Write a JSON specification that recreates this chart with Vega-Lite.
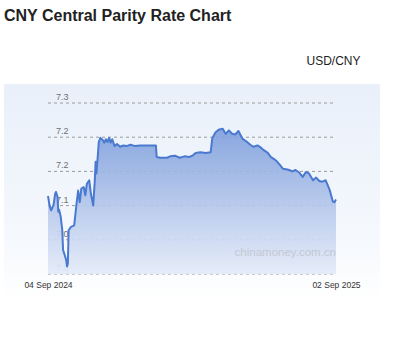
{
  "$schema": "https://vega.github.io/schema/vega-lite/v6.json",
  "width": 376,
  "height": 216,
  "autosize": {"type": "none"},
  "padding": {"left": 4, "top": 84, "right": 18, "bottom": 56},
  "background": "#ffffff",
  "config": {"view": {"stroke": null}, "font": "Liberation Sans"},
  "title": {
    "text": "CNY Central Parity Rate Chart",
    "anchor": "start",
    "frame": "group",
    "font": "Liberation Sans",
    "fontSize": 16,
    "fontWeight": "bold",
    "color": "#222222",
    "baseline": "alphabetic",
    "offset": 17
  },
  "datasets": {
    "rates": [
      {"d": "2024-09-04", "v": 7.114},
      {"d": "2024-09-06", "v": 7.100},
      {"d": "2024-09-08", "v": 7.093},
      {"d": "2024-09-11", "v": 7.101},
      {"d": "2024-09-13", "v": 7.117},
      {"d": "2024-09-14", "v": 7.120},
      {"d": "2024-09-16", "v": 7.113},
      {"d": "2024-09-17", "v": 7.091},
      {"d": "2024-09-18", "v": 7.094},
      {"d": "2024-09-20", "v": 7.084},
      {"d": "2024-09-22", "v": 7.064},
      {"d": "2024-09-23", "v": 7.035},
      {"d": "2024-09-25", "v": 7.028},
      {"d": "2024-09-27", "v": 7.020},
      {"d": "2024-09-28", "v": 7.011},
      {"d": "2024-09-29", "v": 7.015},
      {"d": "2024-09-30", "v": 7.064},
      {"d": "2024-10-03", "v": 7.069},
      {"d": "2024-10-07", "v": 7.071},
      {"d": "2024-10-10", "v": 7.103},
      {"d": "2024-10-12", "v": 7.122},
      {"d": "2024-10-14", "v": 7.105},
      {"d": "2024-10-16", "v": 7.125},
      {"d": "2024-10-19", "v": 7.127},
      {"d": "2024-10-21", "v": 7.115},
      {"d": "2024-10-23", "v": 7.132},
      {"d": "2024-10-26", "v": 7.137},
      {"d": "2024-10-28", "v": 7.118},
      {"d": "2024-10-31", "v": 7.100},
      {"d": "2024-11-02", "v": 7.137},
      {"d": "2024-11-03", "v": 7.164},
      {"d": "2024-11-04", "v": 7.147},
      {"d": "2024-11-06", "v": 7.176},
      {"d": "2024-11-07", "v": 7.193},
      {"d": "2024-11-09", "v": 7.199},
      {"d": "2024-11-12", "v": 7.196},
      {"d": "2024-11-14", "v": 7.192},
      {"d": "2024-11-16", "v": 7.197},
      {"d": "2024-11-18", "v": 7.193},
      {"d": "2024-11-20", "v": 7.199},
      {"d": "2024-11-22", "v": 7.192},
      {"d": "2024-11-24", "v": 7.197},
      {"d": "2024-11-27", "v": 7.187},
      {"d": "2024-11-30", "v": 7.190},
      {"d": "2024-12-04", "v": 7.186},
      {"d": "2024-12-08", "v": 7.188},
      {"d": "2024-12-12", "v": 7.187},
      {"d": "2024-12-17", "v": 7.189},
      {"d": "2024-12-23", "v": 7.187},
      {"d": "2024-12-29", "v": 7.188},
      {"d": "2025-01-05", "v": 7.188},
      {"d": "2025-01-11", "v": 7.188},
      {"d": "2025-01-18", "v": 7.188},
      {"d": "2025-01-19", "v": 7.171},
      {"d": "2025-01-23", "v": 7.170},
      {"d": "2025-02-01", "v": 7.170},
      {"d": "2025-02-05", "v": 7.172},
      {"d": "2025-02-11", "v": 7.173},
      {"d": "2025-02-17", "v": 7.170},
      {"d": "2025-02-23", "v": 7.172},
      {"d": "2025-03-01", "v": 7.171},
      {"d": "2025-03-05", "v": 7.173},
      {"d": "2025-03-09", "v": 7.177},
      {"d": "2025-03-15", "v": 7.178},
      {"d": "2025-03-22", "v": 7.177},
      {"d": "2025-03-28", "v": 7.178},
      {"d": "2025-03-30", "v": 7.198},
      {"d": "2025-04-03", "v": 7.207},
      {"d": "2025-04-07", "v": 7.211},
      {"d": "2025-04-12", "v": 7.2125},
      {"d": "2025-04-16", "v": 7.205},
      {"d": "2025-04-20", "v": 7.210},
      {"d": "2025-04-24", "v": 7.205},
      {"d": "2025-04-28", "v": 7.204},
      {"d": "2025-05-02", "v": 7.209},
      {"d": "2025-05-07", "v": 7.198},
      {"d": "2025-05-13", "v": 7.193},
      {"d": "2025-05-17", "v": 7.189},
      {"d": "2025-05-21", "v": 7.186},
      {"d": "2025-05-26", "v": 7.188},
      {"d": "2025-05-30", "v": 7.185},
      {"d": "2025-06-03", "v": 7.181},
      {"d": "2025-06-08", "v": 7.177},
      {"d": "2025-06-12", "v": 7.171},
      {"d": "2025-06-16", "v": 7.168},
      {"d": "2025-06-20", "v": 7.164},
      {"d": "2025-06-23", "v": 7.160},
      {"d": "2025-06-27", "v": 7.154},
      {"d": "2025-07-01", "v": 7.153},
      {"d": "2025-07-05", "v": 7.152},
      {"d": "2025-07-09", "v": 7.150},
      {"d": "2025-07-13", "v": 7.152},
      {"d": "2025-07-18", "v": 7.148},
      {"d": "2025-07-22", "v": 7.142},
      {"d": "2025-07-26", "v": 7.149},
      {"d": "2025-07-30", "v": 7.147},
      {"d": "2025-08-04", "v": 7.137},
      {"d": "2025-08-08", "v": 7.141},
      {"d": "2025-08-12", "v": 7.136},
      {"d": "2025-08-16", "v": 7.135},
      {"d": "2025-08-20", "v": 7.137},
      {"d": "2025-08-25", "v": 7.123},
      {"d": "2025-08-29", "v": 7.106},
      {"d": "2025-08-31", "v": 7.105},
      {"d": "2025-09-02", "v": 7.109}
    ],
    "grid": [
      {"g": 7.00}, {"g": 7.05}, {"g": 7.10}, {"g": 7.15}, {"g": 7.20}, {"g": 7.25}
    ],
    "panel": [{"p": 1}]
  },
  "layer": [
    {
      "data": {"name": "panel"},
      "mark": {
        "type": "rect",
        "fill": {
          "gradient": "linear", "x1": 0, "y1": 0, "x2": 0, "y2": 1,
          "stops": [
            {"offset": 0, "color": "#e9f0fa"},
            {"offset": 0.75, "color": "#f6f9fd"},
            {"offset": 1, "color": "#ffffff"}
          ]
        }
      },
      "encoding": {
        "x": {"value": 0},
        "x2": {"value": "width"},
        "y": {"value": 0},
        "y2": {"value": "height"}
      }
    },
    {
      "data": {"name": "grid"},
      "mark": {"type": "rule", "stroke": "#9a9a9a", "strokeWidth": 1, "strokeDash": [3, 3]},
      "encoding": {
        "y": {"field": "g", "type": "quantitative"},
        "x": {"datum": 1725408000000, "type": "temporal"},
        "x2": {"datum": 1756771200000}
      }
    },
    {
      "data": {"name": "grid"},
      "mark": {"type": "text", "align": "left", "baseline": "alphabetic", "dx": 8, "dy": -3, "fontSize": 9, "color": "#707070", "font": "Liberation Sans"},
      "encoding": {
        "y": {"field": "g", "type": "quantitative"},
        "x": {"datum": 1725408000000, "type": "temporal"},
        "text": {"field": "g", "type": "quantitative", "format": ".1f"}
      }
    },
    {
      "data": {"name": "rates"},
      "mark": {
        "type": "area",
        "opacity": 0.92,
        "fill": {
          "gradient": "linear", "x1": 0, "y1": 0, "x2": 0, "y2": 1,
          "stops": [
            {"offset": 0, "color": "#7f9fdc"},
            {"offset": 1, "color": "#e4ebf8"}
          ]
        }
      },
      "encoding": {
        "x": {"field": "d", "type": "temporal"},
        "y": {"field": "v", "type": "quantitative"},
        "y2": {"datum": 7.0}
      }
    },
    {
      "data": {"name": "rates"},
      "mark": {"type": "line", "stroke": "#4a79d0", "strokeWidth": 2, "strokeJoin": "round"},
      "encoding": {
        "x": {
          "field": "d",
          "type": "temporal",
          "scale": {
            "type": "utc",
            "domain": [1725408000000, 1756771200000],
            "range": [44, 332],
            "nice": false
          },
          "axis": {
            "title": null,
            "values": [1725408000000, 1756771200000],
            "format": "%d %b %Y",
            "domain": false,
            "ticks": false,
            "tickSize": 0,
            "grid": false,
            "labelFlush": false,
            "labelOverlap": false,
            "labelBaseline": "middle",
            "labelPadding": -16,
            "labelFontSize": 8.5,
            "labelColor": "#333333",
            "labelFont": "Liberation Sans",
            "zindex": 1
          }
        },
        "y": {
          "field": "v",
          "type": "quantitative",
          "scale": {"domain": [7.0, 7.25], "range": [190, 19], "nice": false, "zero": false},
          "axis": {
            "title": "USD/CNY",
            "titleAngle": 0,
            "titleAlign": "left",
            "titleBaseline": "alphabetic",
            "titleX": 302,
            "titleY": -20,
            "titleFont": "Liberation Sans",
            "titleFontSize": 12,
            "titleFontWeight": "normal",
            "titleColor": "#222222",
            "labels": false,
            "ticks": false,
            "tickSize": 0,
            "domain": false,
            "grid": false
          }
        }
      }
    },
    {
      "data": {"name": "panel"},
      "mark": {"type": "text", "text": "chinamoney.com.cn", "align": "right", "baseline": "middle", "fontSize": 11.5, "color": "#c2c8d3", "font": "Liberation Sans"},
      "encoding": {
        "x": {"datum": 1756771200000, "type": "temporal"},
        "y": {"datum": 7.031, "type": "quantitative"}
      }
    }
  ],
  "resolve": {"scale": {"x": "shared", "y": "shared"}}
}
